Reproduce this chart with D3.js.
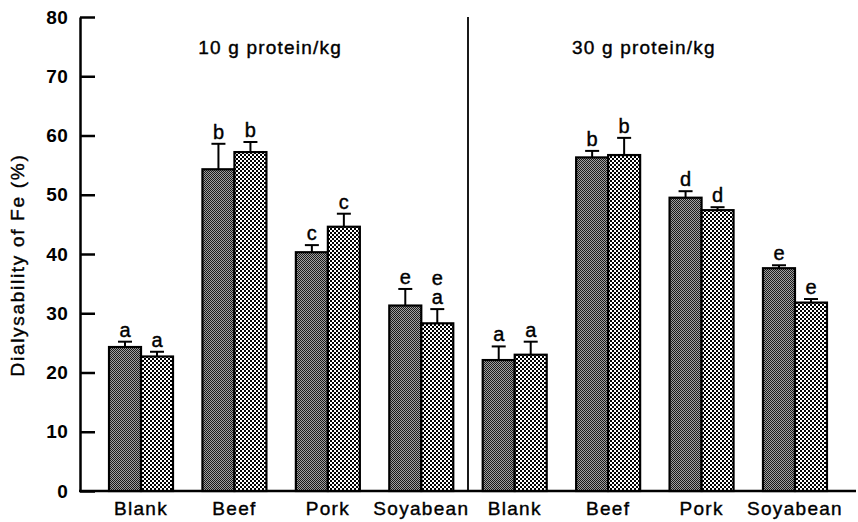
<!DOCTYPE html>
<html>
<head>
<meta charset="utf-8">
<script src="https://cdn.jsdelivr.net/npm/d3@7"></script>
<style>
  body { margin: 0; background: #fff; }
  text { font-family: "Liberation Sans", Arial, sans-serif; fill: #000; }
</style>
</head>
<body>
<script>
// protein levels and foods
var levels = ["10 g protein/kg", "30 g protein/kg"];
var foods = ["Blank", "Beef", "Pork", "Soyabean"];

// means and SE, order: 10 g (Blank, Beef, Pork, Soyabean), then 30 g
var solidMeans = [24.3, 54.3, 40.3, 31.3, 22.1, 56.3, 49.5, 37.6];
var solidErr   = [0.9, 4.3, 1.2, 2.8, 2.3, 1.1, 1.1, 0.5];
var hatchMeans = [22.7, 57.2, 44.6, 28.3, 23.0, 56.7, 47.4, 31.8];
var hatchErr   = [0.8, 1.7, 2.2, 2.4, 2.2, 2.9, 0.5, 0.6];
var solidLetters = [["a"], ["b"], ["c"], ["e"], ["a"], ["b"], ["d"], ["e"]];
var hatchLetters = [["a"], ["b"], ["c"], ["e", "a"], ["a"], ["b"], ["d"], ["e"]];
var yTicks = [0, 10, 20, 30, 40, 50, 60, 70, 80];

var keys = [];
levels.forEach(function(l, li){ foods.forEach(function(f){ keys.push(li + "|" + f); }); });

var rows = keys.map(function(k, i){
  return [
    {key: k, s: "solid", v: solidMeans[i], e: solidErr[i], lab: solidLetters[i]},
    {key: k, s: "hatch", v: hatchMeans[i], e: hatchErr[i], lab: hatchLetters[i]}
  ];
});
var bars = d3.merge(rows);

var svg = d3.select("body").append("svg").attr("width", 858).attr("height", 522);

var defs = svg.append("defs");
// fine dark dither
var p1 = defs.append("pattern").attr("id", "solid").attr("patternUnits", "userSpaceOnUse")
  .attr("width", 2).attr("height", 2);
p1.append("rect").attr("width", 2).attr("height", 2).attr("fill", "#a0a0a0");
p1.append("rect").attr("width", 1).attr("height", 1).attr("fill", "#1a1a1a");
p1.append("rect").attr("x", 1).attr("y", 1).attr("width", 1).attr("height", 1).attr("fill", "#1a1a1a");

// cross-hatch: white dots in a diagonal lattice
var p2 = defs.append("pattern").attr("id", "hatch").attr("patternUnits", "userSpaceOnUse")
  .attr("width", 4).attr("height", 4);
p2.append("rect").attr("width", 4).attr("height", 4).attr("fill", "#000");
p2.append("rect").attr("width", 2).attr("height", 2).attr("fill", "#fff");
p2.append("rect").attr("x", 2).attr("y", 2).attr("width", 2).attr("height", 2).attr("fill", "#fff");

var x = d3.scaleBand().domain(keys).range([94.3, 841.7]).paddingInner(0.315).paddingOuter(0.1575);
var xs = d3.scaleBand().domain(["solid", "hatch"]).range([0, x.bandwidth()]);
var y = d3.scaleLinear().domain([0, 80]).range([491, 17]);

// y axis, ticks pointing inward
var yAxis = svg.append("g").attr("transform", "translate(80,0)")
  .call(d3.axisLeft(y).tickValues(yTicks).tickSizeInner(-15).tickSizeOuter(0).tickPadding(12));
yAxis.select(".domain").attr("stroke-width", 2.5);
yAxis.selectAll(".tick line").attr("stroke-width", 2.5);
yAxis.selectAll(".tick text").attr("font-size", 19).attr("font-weight", "bold")
  .attr("font-family", "Liberation Sans, Arial, sans-serif").attr("letter-spacing", 0.3);

// baseline
svg.append("line").attr("x1", 79).attr("x2", 856).attr("y1", y(0)).attr("y2", y(0))
  .attr("stroke", "#000").attr("stroke-width", 2.5);

// divider between the protein levels
var divX = (x(keys[3]) + x.bandwidth() + x(keys[4])) / 2;
svg.append("line").attr("x1", divX).attr("x2", divX).attr("y1", y(80)).attr("y2", y(0))
  .attr("stroke", "#000").attr("stroke-width", 1.8);

// panel titles
svg.selectAll("text.title").data(levels).enter().append("text")
  .attr("class", "title")
  .attr("x", function(d, i){
    var a = x(keys[i * 4]), b = x(keys[i * 4 + 3]) + x.bandwidth();
    return (a + b) / 2 - 11;
  })
  .attr("y", 54)
  .attr("text-anchor", "middle")
  .attr("font-size", 19)
  .attr("letter-spacing", 1.2)
  .attr("stroke", "#000").attr("stroke-width", 0.4)
  .text(function(d){ return d; });

// category labels
var xAxis = svg.append("g").attr("transform", "translate(0," + y(0) + ")")
  .call(d3.axisBottom(x).tickSize(0).tickPadding(11).tickFormat(function(d){ return d.split("|")[1]; }));
xAxis.select(".domain").remove();
xAxis.selectAll(".tick text").attr("font-size", 19).attr("letter-spacing", 1.3)
  .attr("font-family", "Liberation Sans, Arial, sans-serif")
  .attr("stroke", "#000").attr("stroke-width", 0.4);

// y axis title
svg.append("text")
  .attr("transform", "translate(24," + 265 + ") rotate(-90)")
  .attr("text-anchor", "middle")
  .attr("font-size", 19)
  .attr("letter-spacing", 1.7)
  .attr("stroke", "#000").attr("stroke-width", 0.4)
  .text("Dialysability of Fe (%)");

// bars
var bx = function(d){ return x(d.key) + xs(d.s); };
var cx = function(d){ return bx(d) + xs.bandwidth() / 2; };

svg.selectAll("rect.bar").data(bars).enter().append("rect")
  .attr("class", "bar")
  .attr("x", bx)
  .attr("y", function(d){ return y(d.v); })
  .attr("width", xs.bandwidth())
  .attr("height", function(d){ return y(0) - y(d.v); })
  .attr("fill", function(d){ return "url(#" + d.s + ")"; })
  .attr("stroke", "#000")
  .attr("stroke-width", 2.2);

// error bars
svg.selectAll("line.err").data(bars).enter().append("line")
  .attr("class", "err")
  .attr("x1", cx).attr("x2", cx)
  .attr("y1", function(d){ return y(d.v); })
  .attr("y2", function(d){ return y(d.v + d.e); })
  .attr("stroke", "#000").attr("stroke-width", 2);

svg.selectAll("line.cap").data(bars).enter().append("line")
  .attr("class", "cap")
  .attr("x1", function(d){ return cx(d) - 7; })
  .attr("x2", function(d){ return cx(d) + 7; })
  .attr("y1", function(d){ return y(d.v + d.e); })
  .attr("y2", function(d){ return y(d.v + d.e); })
  .attr("stroke", "#000").attr("stroke-width", 2);

// significance letters
bars.forEach(function(d){
  var n = d.lab.length;
  d.lab.forEach(function(l, j){
    svg.append("text")
      .attr("x", cx(d))
      .attr("y", y(d.v + d.e) - 5 - (n - 1 - j) * 19)
      .attr("text-anchor", "middle")
      .attr("font-size", 20)
      .attr("stroke", "#000").attr("stroke-width", 0.4)
      .text(l);
  });
});
</script>
</body>
</html>
